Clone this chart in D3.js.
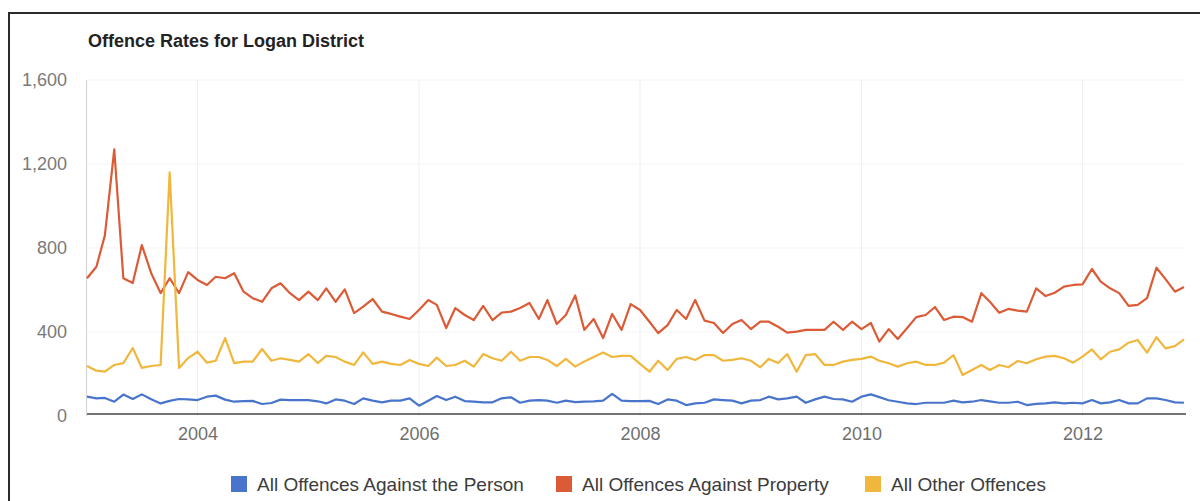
<!DOCTYPE html>
<html>
<head>
<meta charset="utf-8">
<script src="https://cdn.jsdelivr.net/npm/d3@7"></script>
<style>
  html, body { margin: 0; padding: 0; background: #fff; }
  svg { display: block; font-family: Arial, "Liberation Sans", sans-serif; }
</style>
</head>
<body>
<svg id="chart" width="1200" height="501"></svg>
<script>
// Monthly offence rates, Logan District, Jan 2003 – Dec 2012
const firstMonth = new Date(2003, 0, 1);
const monthCount = 120;

const personOffences = [
  92, 84, 86, 68, 102, 81, 103, 80, 60, 72,
  81, 79, 76, 92, 97, 78, 68, 71, 72, 57,
  62, 78, 76, 76, 76, 70, 60, 79, 73, 57,
  84, 73, 65, 73, 73, 84, 49, 73, 95, 76,
  92, 71, 68, 65, 65, 84, 89, 63, 73, 76,
  73, 63, 73, 66, 68, 70, 73, 105, 73, 71,
  71, 72, 57, 79, 73, 52, 60, 63, 79, 76,
  73, 60, 73, 76, 92, 79, 84, 92, 63, 79,
  92, 81, 79, 68, 92, 103, 90, 75, 68, 60,
  57, 63, 63, 63, 73, 65, 68, 76, 70, 63,
  63, 68, 52, 58, 60, 65, 60, 63, 60, 76,
  60, 65, 76, 60, 60, 84, 84, 76, 65, 63
];

const propertyOffences = [
  656, 711, 860, 1270, 656, 633, 814, 680, 585, 656,
  585, 685, 648, 624, 663, 656, 680, 592, 561, 544,
  608, 632, 585, 552, 592, 552, 608, 544, 603, 490,
  521, 557, 497, 486, 473, 462, 505, 552, 529, 419,
  514, 481, 457, 524, 457, 492, 497, 514, 538, 462,
  552, 438, 481, 574, 410, 462, 371, 486, 410, 533,
  505, 449, 395, 433, 505, 462, 552, 454, 443, 395,
  438, 457, 414, 449, 449, 425, 397, 402, 410, 410,
  410, 449, 410, 449, 414, 443, 354, 414, 367, 419,
  471, 481, 519, 457, 473, 471, 449, 585, 544, 492,
  510, 502, 497, 608, 571, 587, 616, 624, 627, 700,
  640, 608, 585, 524, 529, 561, 706, 652, 592, 614
];

const otherOffences = [
  238, 216, 211, 243, 252, 324, 229, 238, 243, 1160,
  229, 276, 306, 254, 263, 371, 252, 259, 259, 319,
  263, 275, 267, 259, 295, 252, 286, 281, 259, 243,
  303, 248, 259, 248, 243, 267, 248, 238, 278, 238,
  243, 263, 235, 295, 275, 263, 306, 263, 281, 281,
  267, 238, 272, 235, 260, 281, 302, 281, 286, 286,
  248, 211, 263, 219, 272, 281, 267, 290, 290, 263,
  267, 275, 263, 232, 272, 252, 295, 211, 290, 295,
  243, 243, 259, 267, 272, 283, 263, 251, 235, 251,
  259, 243, 243, 254, 290, 195, 219, 243, 219, 243,
  232, 262, 251, 270, 283, 286, 275, 254, 283, 317,
  270, 306, 317, 349, 362, 302, 375, 322, 333, 365
];

const seriesNames = [
  "All Offences Against the Person",
  "All Offences Against Property",
  "All Other Offences"
];
const seriesColors = ["#4875cb", "#dc5b37", "#f1b73d"];
const yTickValues = [0, 400, 800, 1200, 1600];
const xTickYears = [2004, 2006, 2008, 2010, 2012];

const months = d3.range(monthCount).map(i => d3.timeMonth.offset(firstMonth, i));
const series = [personOffences, propertyOffences, otherOffences];

const svg = d3.select("#chart");

// page frame
svg.append("path")
  .attr("d", "M9,510 V13 H1210")
  .attr("fill", "none")
  .attr("stroke", "#2b2b2b")
  .attr("stroke-width", 2);

const plot = { left: 87, right: 1184, top: 80, bottom: 416 };

const x = d3.scaleTime()
  .domain([months[0], months[monthCount - 1]])
  .range([plot.left, plot.right]);

const y = d3.scaleLinear()
  .domain([0, 1600])
  .range([plot.bottom, plot.top]);

// title
svg.append("text")
  .attr("x", 88)
  .attr("y", 47)
  .attr("font-size", 18)
  .attr("font-weight", "bold")
  .attr("fill", "#222")
  .text("Offence Rates for Logan District");

// horizontal gridlines
svg.append("g")
  .selectAll("line")
  .data(yTickValues.slice(1))
  .join("line")
  .attr("x1", plot.left).attr("x2", plot.right)
  .attr("y1", d => y(d)).attr("y2", d => y(d))
  .attr("stroke", "#f3f3f3")
  .attr("stroke-width", 1);

// vertical gridlines at year ticks
svg.append("g")
  .selectAll("line")
  .data(xTickYears)
  .join("line")
  .attr("x1", d => x(new Date(d, 0, 1))).attr("x2", d => x(new Date(d, 0, 1)))
  .attr("y1", plot.top).attr("y2", plot.bottom)
  .attr("stroke", "#f0f0f0")
  .attr("stroke-width", 1);

// left edge line
svg.append("line")
  .attr("x1", plot.left - 0.5).attr("x2", plot.left - 0.5)
  .attr("y1", plot.top).attr("y2", plot.bottom)
  .attr("stroke", "#d6d6d6")
  .attr("stroke-width", 1.2);

// y axis labels
const yAxis = d3.axisLeft(y)
  .tickValues(yTickValues)
  .tickFormat(d3.format(","))
  .tickSize(0)
  .tickPadding(20);
svg.append("g")
  .attr("transform", `translate(${plot.left},0)`)
  .call(yAxis)
  .call(g => g.select(".domain").remove())
  .call(g => g.selectAll("text")
    .attr("font-size", 18)
    .attr("font-family", "Arial, 'Liberation Sans', sans-serif")
    .attr("fill", "#7a7a7a"));

// x axis labels
const xAxis = d3.axisBottom(x)
  .tickValues(xTickYears.map(yr => new Date(yr, 0, 1)))
  .tickFormat(d3.timeFormat("%Y"))
  .tickSize(0)
  .tickPadding(13);
svg.append("g")
  .attr("transform", `translate(0,${plot.bottom - 2})`)
  .call(xAxis)
  .call(g => g.select(".domain").remove())
  .call(g => g.selectAll("text")
    .attr("font-size", 18)
    .attr("font-family", "Arial, 'Liberation Sans', sans-serif")
    .attr("fill", "#6f6f6f"));

// series lines
const line = d3.line()
  .x((d, i) => x(months[i]))
  .y(d => y(d));

svg.append("g")
  .selectAll("path")
  .data(series)
  .join("path")
  .attr("d", d => line(d))
  .attr("fill", "none")
  .attr("stroke", (d, i) => seriesColors[i])
  .attr("stroke-width", 2.2)
  .attr("stroke-linejoin", "round");

// baseline
svg.append("line")
  .attr("x1", plot.left).attr("x2", plot.right + 2)
  .attr("y1", plot.bottom - 2).attr("y2", plot.bottom - 2)
  .attr("stroke", "#444")
  .attr("stroke-width", 1.5);

// legend
const legendX = [231, 556, 865];
const legend = svg.append("g");
const items = legend.selectAll("g")
  .data(seriesNames)
  .join("g")
  .attr("transform", (d, i) => `translate(${legendX[i]},476)`);
items.append("rect")
  .attr("width", 16).attr("height", 16)
  .attr("fill", (d, i) => seriesColors[i]);
items.append("text")
  .attr("x", 26)
  .attr("y", 15)
  .attr("font-size", 19)
  .attr("fill", "#3c3c3c")
  .text(d => d);
</script>
</body>
</html>
